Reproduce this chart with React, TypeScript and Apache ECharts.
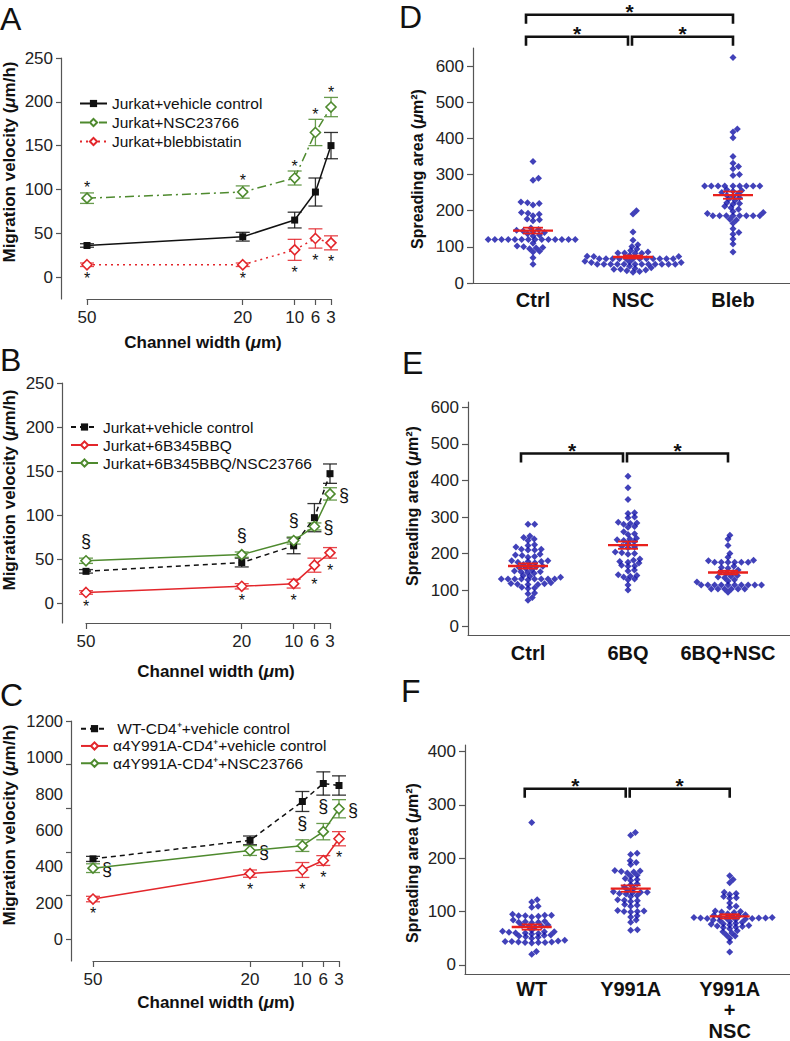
import React, { useEffect, useRef } from 'react';
import * as echarts from 'echarts';

const FONT = "'Liberation Sans', Arial, Helvetica, sans-serif";

// ---------------- data: left panels (migration velocity) ----------------
const WIDTHS = [50, 20, 10, 6, 3];

const A_CTRL = [36, 46, 65, 97, 150];
const A_CTRL_ERR = [2, 5, 9, 16, 15];
const A_NSC = [90, 97, 113, 165, 194];
const A_NSC_ERR = [6, 7, 8, 15, 11];
const A_BLEB = [14, 14, 31, 44, 39];
const A_BLEB_ERR = [2, 2, 12, 11, 8];
const A_NSC_MARK = ['*', '*', '*', '*', '*'];
const A_NSC_MARK_POS = ['top', 'top', 'top', 'top', 'top'];
const A_BLEB_MARK = ['*', '*', '*', '*', '*'];
const A_BLEB_MARK_POS = ['bottom', 'bottom', 'bottom', 'bottom', 'bottom'];

const B_CTRL = [36, 46, 65, 97, 147];
const B_CTRL_ERR = [2, 5, 9, 16, 11];
const B_6BQ = [12, 19, 22, 43, 57];
const B_6BQ_ERR = [2, 3, 5, 8, 6];
const B_6BQ_NSC = [48, 55, 71, 87, 124];
const B_6BQ_NSC_ERR = [3, 3, 4, 4, 7];
const B_6BQ_MARK = ['*', '*', '*', '*', '*'];
const B_6BQ_MARK_POS = ['bottom', 'bottom', 'bottom', 'bottom', 'bottom'];
const B_6BQ_NSC_MARK = ['§', '§', '§', '§', '§'];
const B_6BQ_NSC_MARK_POS = ['top', 'top', 'top', 'right', 'right'];

const C_WT = [441, 543, 757, 856, 845];
const C_WT_ERR = [14, 24, 55, 64, 53];
const C_Y991A = [220, 360, 380, 432, 552];
const C_Y991A_ERR = [15, 20, 41, 27, 39];
const C_Y991A_NSC = [390, 487, 514, 591, 717];
const C_Y991A_NSC_ERR = [24, 27, 32, 45, 50];
const C_Y991A_MARK = ['*', '*', '*', '*', '*'];
const C_Y991A_MARK_POS = ['bottom', 'bottom', 'bottom', 'bottom', 'bottom'];
const C_Y991A_NSC_MARK = ['§', '§', '§', '§', '§'];
const C_Y991A_NSC_MARK_POS = ['right', 'right', 'top', 'top', 'right'];

const AB_Y_TICKS = [0, 50, 100, 150, 200, 250];
const C_Y_LABELS = [0, 200, 400, 600, 800, 1000, 1200];
const C_Y_TICKS = [0, 240, 480, 720, 960, 1200];

// ---------------- data: right panels (spreading area) ----------------
const D_CATS = ['Ctrl', 'NSC', 'Bleb'];
const D_CTRL = [336, 290, 284, 224, 222, 220, 216, 195, 193, 190, 186, 177, 175, 172, 152, 148, 146, 144, 142, 140, 136, 133, 130,
  120, 120, 120, 120, 120, 120, 120, 120, 120, 120, 120, 120, 120, 120, 110, 102, 100, 98, 97, 95, 88, 86, 70, 52];
const D_NSC = [200, 191, 141, 118, 106, 101, 94, 90, 86, 83, 83, 82, 82, 76, 74, 73, 73,
  67, 67, 67, 67, 67, 67, 67, 67, 67, 67, 67, 67, 60, 58, 57, 57,
  52, 52, 52, 52, 52, 52, 52, 52, 52, 52, 52, 52, 46, 42, 40, 38, 38, 36, 34, 32, 30];
const D_BLEB = [624, 426, 418, 402, 350, 331, 322, 316, 300, 297, 268, 268, 268, 268, 268, 268, 268, 268, 268, 258, 256, 254, 250, 247, 243,
  240, 236, 232, 228, 222, 220, 218, 212, 208, 204, 198, 195, 192, 186, 186, 186, 186, 186, 186, 186, 186, 176, 174, 165, 150, 140, 135, 122, 108, 86];
const D_MEAN = [145, 72, 243];
const D_SEM = [8, 4, 10];
const D_PAIRS = [[0, 1], [1, 2], [0, 2]];
const D_PAIR_LEVEL = [681, 681, 742];
const D_Y_TICKS = [0, 100, 200, 300, 400, 500, 600];

const E_CATS = ['Ctrl', '6BQ', '6BQ+NSC'];
const E_CTRL = [280, 280, 248, 244, 240, 236, 224, 222, 218, 212, 212, 210, 210, 198, 196, 195, 192, 190, 180, 180, 178, 178, 176, 175,
  170, 168, 165, 164, 162, 160, 156, 152, 150, 150, 148, 146, 140, 138, 135, 130, 130, 130, 130, 130, 130, 130, 130, 128,
  120, 118, 117, 116, 115, 115, 108, 106, 104, 92, 90, 80, 72];
const E_6BQ = [412, 380, 348, 312, 310, 300, 298, 286, 284, 282, 280, 274, 272, 260, 254, 252, 242, 240, 238, 236, 232, 228, 220, 218,
  216, 204, 202, 200, 198, 185, 182, 178, 176, 174, 168, 166, 165, 155, 152, 142, 140, 138, 136, 130, 128, 114, 100];
const E_6BQ_NSC = [250, 240, 222, 200, 190, 182, 180, 176, 176, 176, 176, 176, 176, 165, 162, 160, 155, 150, 148, 146, 140, 138, 136, 134,
  128, 125, 122, 114, 114, 114, 114, 114, 114, 114, 114, 114, 114, 103, 103, 103, 103, 103, 103, 94];
const E_MEAN = [166, 223, 148];
const E_SEM = [7, 10, 5];
const E_PAIRS = [[0, 1], [1, 2]];
const E_PAIR_LEVEL = [474, 474];
const E_Y_TICKS = [0, 100, 200, 300, 400, 500, 600];

const F_CATS = ['WT', 'Y991A', 'Y991A\n+\nNSC'];
const F_WT = [267, 122, 118, 110, 108, 95, 93, 93, 92, 92, 91, 90, 84, 82, 81, 80, 80, 79, 75, 74, 73, 72, 71, 65, 63, 62, 62, 61, 60,
  60, 59, 58, 56, 55, 54, 53, 52, 50, 46, 45, 44, 44, 43, 43, 42, 42, 42, 41, 25, 20];
const F_Y991A = [248, 243, 209, 207, 195, 192, 188, 177, 176, 175, 174, 172, 168, 166, 162, 160, 158, 152, 150, 146, 143, 140, 137,
  136, 136, 135, 134, 133, 130, 128, 122, 121, 120, 119, 113, 112, 110, 102, 101, 100, 100, 99, 92, 90, 84, 80, 66, 65];
const F_Y991A_NSC = [167, 160, 154, 136, 134, 132, 128, 126, 125, 116, 110, 108, 101, 100, 99, 98, 96, 94, 93, 92, 91, 90, 89, 89,
  88, 88, 88, 88, 87, 87, 86, 85, 84, 83, 82, 80, 78, 77, 76, 75, 74, 73, 72, 71, 70, 68, 64, 62, 60, 56, 54, 50, 43, 24];
const F_MEAN = [71, 143, 91];
const F_SEM = [5, 6, 4];
const F_PAIRS = [[0, 1], [1, 2]];
const F_PAIR_LEVEL = [330, 330];
const F_Y_TICKS = [0, 100, 200, 300, 400];

// ---------------- layout ----------------
// left grids extend down to the channel-width axis; y minimum below 0 leaves the gap
const GRIDS = [
  { left: 87, top: 58, width: 244, height: 241 },
  { left: 86, top: 383, width: 244, height: 240 },
  { left: 93, top: 721, width: 246, height: 240 },
  { left: 473, top: 48, width: 317, height: 235 },
  { left: 468, top: 402, width: 322, height: 233 },
  { left: 465, top: 745, width: 325, height: 234 },
];
const LEFT_Y = [
  { min: -25.1, max: 250, offset: 26 },
  { min: -22.7, max: 250, offset: 24 },
  { min: -121, max: 1200, offset: 22 },
];
const RIGHT = [
  { gi: 3, yMin: 0, yMax: 650, xMin: 0.4, xMax: 3.57 },
  { gi: 4, yMin: -23, yMax: 615, xMin: 0.4, xMax: 3.62 },
  { gi: 5, yMin: -17, yMax: 412, xMin: 0.326, xMax: 3.609 },
];

const BLACK = '#111111';
const GREEN = '#4e8a2e';
const RED = '#e3262b';
const BLUE = '#1212a8';
const MEANRED = '#e8201c';
const AXIS = '#555555';

// reversed channel-width axis: plotted as negative widths
const XW = (w: number) => -w;

function swarm(values: number[], pxPerUnit: number, dx: number, dy: number): number[] {
  const k = dx / dy;
  const order = values.map((_, i) => i).sort((a, b) => values[a] - values[b]);
  const placed: { x: number; y: number }[] = [];
  const out = new Array(values.length).fill(0);
  const d = dx;
  for (const i of order) {
    const y = values[i] * pxPerUnit * k;
    const cands = [0];
    for (const p of placed) {
      const ddy = y - p.y;
      if (Math.abs(ddy) < d) {
        const ddx = Math.sqrt(d * d - ddy * ddy);
        cands.push(p.x + ddx, p.x - ddx);
      }
    }
    cands.sort((a, b) => Math.abs(a) - Math.abs(b) || b - a);
    let chosen = 0;
    for (const c of cands) {
      let ok = true;
      for (const p of placed) {
        const ex = c - p.x, ey = y - p.y;
        if (ex * ex + ey * ey < d * d - 1e-6) { ok = false; break; }
      }
      if (ok) { chosen = c; break; }
    }
    placed.push({ x: chosen, y });
    out[i] = chosen;
  }
  return out;
}

function lineSeries(name: string, gi: number, values: number[], color: string, dash: any, kind: 'square' | 'diamond') {
  return {
    type: 'line', name, xAxisIndex: gi, yAxisIndex: gi, silent: true, z: 4, clip: false,
    data: WIDTHS.map((w, i) => [XW(w), values[i]]),
    symbol: kind === 'square' ? 'rect' : 'diamond',
    symbolSize: kind === 'square' ? 7 : 10,
    lineStyle: { color, width: 1.5, type: dash },
    itemStyle: kind === 'square'
      ? { color: BLACK }
      : { color: '#ffffff', borderColor: color, borderWidth: 1.6 },
  };
}

function errSeries(gi: number, values: number[], errs: number[], color: string, marks?: string[], pos?: string[]) {
  return {
    type: 'custom', xAxisIndex: gi, yAxisIndex: gi, silent: true, clip: false, z: 3,
    data: WIDTHS.map((w, i) => [XW(w), values[i], errs[i], i]),
    renderItem: (params: any, api: any) => {
      const x = api.value(0), y = api.value(1), e = api.value(2), i = api.value(3);
      const top = api.coord([x, y + e]);
      const bot = api.coord([x, y - e]);
      const c = api.coord([x, y]);
      const st = { stroke: color, lineWidth: 1.3, opacity: 0.85 };
      const children: any[] = [
        { type: 'line', shape: { x1: c[0], y1: top[1], x2: c[0], y2: bot[1] }, style: st },
        { type: 'line', shape: { x1: c[0] - 7, y1: top[1], x2: c[0] + 7, y2: top[1] }, style: st },
        { type: 'line', shape: { x1: c[0] - 7, y1: bot[1], x2: c[0] + 7, y2: bot[1] }, style: st },
      ];
      const m = marks ? marks[i] : '';
      if (m) {
        const p = pos ? pos[i] : 'top';
        let tx = c[0], ty = c[1];
        if (p === 'top') ty = top[1] - (m === '*' ? 5 : 17);
        else if (p === 'bottom') ty = bot[1] + (m === '*' ? 12 : 10);
        else { tx = c[0] + 14; ty = c[1] + 1; }
        children.push({
          type: 'text', x: tx, y: ty,
          style: {
            text: m, fill: BLACK, fontSize: m === '*' ? 16 : 18, fontFamily: FONT,
            align: 'center', verticalAlign: 'middle', textAlign: 'center', textVerticalAlign: 'middle',
          },
        });
      }
      return { type: 'group', children };
    },
  };
}

function leftY(gi: number, labels: number[], ticks: number[], fs: number) {
  const l = LEFT_Y[gi];
  return {
    type: 'value', gridIndex: gi, min: l.min, max: l.max, offset: l.offset,
    axisLine: { show: true, onZero: false, lineStyle: { color: AXIS, width: 1.2 } },
    axisTick: { show: true, length: 5, customValues: ticks, lineStyle: { color: AXIS, width: 1.2 } },
    axisLabel: { customValues: labels, formatter: (v: number) => String(v), fontSize: fs, color: '#222', fontFamily: FONT, margin: 8 },
    splitLine: { show: false },
  };
}

function leftX(gi: number) {
  const vals = WIDTHS.map(XW);
  return {
    type: 'value', gridIndex: gi, min: XW(50), max: XW(3), position: 'bottom',
    axisLine: { show: true, onZero: false, lineStyle: { color: AXIS, width: 1.2 } },
    axisTick: { show: true, length: 6, customValues: vals, lineStyle: { color: AXIS, width: 1.2 } },
    axisLabel: { customValues: vals, formatter: (v: number) => String(-v), fontSize: 17, color: '#222', fontFamily: FONT, margin: 10 },
    splitLine: { show: false },
  };
}

function rightY(k: number, ticks: number[]) {
  const r = RIGHT[k];
  return {
    type: 'value', gridIndex: r.gi, min: r.yMin, max: r.yMax,
    axisLine: { show: true, onZero: false, lineStyle: { color: AXIS, width: 1.2 } },
    axisTick: { show: true, length: 6, customValues: ticks, lineStyle: { color: AXIS, width: 1.2 } },
    axisLabel: { customValues: ticks, formatter: (v: number) => String(v), fontSize: 17, color: '#222', fontFamily: FONT, margin: 9 },
    splitLine: { show: false },
  };
}

function rightX(k: number, cats: string[], margin: number) {
  const r = RIGHT[k];
  return {
    type: 'value', gridIndex: r.gi, min: r.xMin, max: r.xMax, position: 'bottom',
    axisLine: { show: true, onZero: false, lineStyle: { color: AXIS, width: 1.2 } },
    axisTick: { show: false },
    axisLabel: {
      customValues: [1, 2, 3], formatter: (v: number) => cats[Math.round(v) - 1] || '',
      fontSize: 20, fontWeight: 'bold', color: '#111', fontFamily: FONT, margin, lineHeight: 21,
    },
    splitLine: { show: false },
  };
}

function swarmSeries(k: number, groups: number[][]) {
  const r = RIGHT[k];
  const g = GRIDS[r.gi];
  const pxY = g.height / (r.yMax - r.yMin);
  const pxX = g.width / (r.xMax - r.xMin);
  const data: number[][] = [];
  groups.forEach((vals, gi) => {
    const offs = swarm(vals, pxY, 6.7, 3.8);
    vals.forEach((v, i) => data.push([gi + 1 + offs[i] / pxX, v]));
  });
  return {
    type: 'scatter', xAxisIndex: r.gi, yAxisIndex: r.gi, silent: true, z: 3,
    symbol: 'diamond', symbolSize: 7, itemStyle: { color: BLUE }, data,
  };
}

function meanSeries(k: number, means: number[], sems: number[]) {
  const r = RIGHT[k];
  return {
    type: 'custom', xAxisIndex: r.gi, yAxisIndex: r.gi, silent: true, clip: false, z: 5,
    data: means.map((m, i) => [i + 1, m, sems[i]]),
    renderItem: (params: any, api: any) => {
      const x = api.value(0), m = api.value(1), s = api.value(2);
      const c = api.coord([x, m]);
      const t = api.coord([x, m + s]);
      const b = api.coord([x, m - s]);
      const st = { stroke: MEANRED, lineWidth: 1.8 };
      return {
        type: 'group', children: [
          { type: 'line', shape: { x1: c[0] - 20, y1: c[1], x2: c[0] + 20, y2: c[1] }, style: { stroke: MEANRED, lineWidth: 2.4 } },
          { type: 'line', shape: { x1: c[0], y1: t[1], x2: c[0], y2: b[1] }, style: st },
          { type: 'line', shape: { x1: c[0] - 10, y1: t[1], x2: c[0] + 10, y2: t[1] }, style: st },
          { type: 'line', shape: { x1: c[0] - 10, y1: b[1], x2: c[0] + 10, y2: b[1] }, style: st },
        ],
      };
    },
  };
}

function bracketSeries(k: number, pairs: number[][], levels: number[]) {
  const r = RIGHT[k];
  return {
    type: 'custom', xAxisIndex: r.gi, yAxisIndex: r.gi, silent: true, clip: false, z: 6,
    encode: { x: [0, 1], y: 2 },
    data: pairs.map((p, i) => [p[0] + 1, p[1] + 1, levels[i], p[0], p[1]]),
    renderItem: (params: any, api: any) => {
      const a = api.value(0), b = api.value(1), lv = api.value(2), ia = api.value(3), ib = api.value(4);
      const pa = api.coord([a, lv]);
      const pb = api.coord([b, lv]);
      const x1 = pa[0] + (ia === 0 ? -7 : -1);
      const x2 = pb[0] + (ib === 1 ? -5 : 0);
      const y = pa[1];
      const yt = y + 9;
      return {
        type: 'group', children: [
          { type: 'polyline', shape: { points: [[x1, yt], [x1, y], [x2, y], [x2, yt]] }, style: { stroke: BLACK, lineWidth: 2.6, fill: null } },
          {
            type: 'text', x: (x1 + x2) / 2, y: y - 3,
            style: { text: '*', fill: BLACK, fontSize: 21, fontWeight: 'bold', fontFamily: FONT, align: 'center', verticalAlign: 'middle', textAlign: 'center', textVerticalAlign: 'middle' },
          },
        ],
      };
    },
  };
}

function legend(left: number, top: number, lh: number, names: string[]) {
  return {
    orient: 'vertical', left, top, itemWidth: 27, itemHeight: 9, itemGap: 0, padding: 0,
    selectedMode: false,
    textStyle: { fontSize: 15.5, fontFamily: FONT, color: '#111', lineHeight: lh },
    formatter: (n: string) => n.replace(/\u200b/g, ''),
    data: names,
  };
}

function title(x: number, y: number, pre: string, post: string, rotate: boolean, fs: number) {
  return {
    type: 'text', x, y, rotation: rotate ? Math.PI / 2 : 0, silent: true,
    style: {
      text: `${pre}{i|μ}${post}`,
      rich: { i: { fontStyle: 'italic', fontWeight: 'bold', fontSize: fs, fontFamily: FONT, fill: BLACK } },
      fontSize: fs, fontWeight: 'bold', fontFamily: FONT, fill: BLACK,
      align: 'center', verticalAlign: 'middle', textAlign: 'center', textVerticalAlign: 'middle',
    },
  };
}

function letter(x: number, y: number, t: string) {
  return {
    type: 'text', x, y, silent: true,
    style: { text: t, fontSize: 32, fontFamily: FONT, fill: BLACK, align: 'left', verticalAlign: 'middle', textAlign: 'left', textVerticalAlign: 'middle' },
  };
}

export default function App() {
  const ref = useRef<HTMLDivElement>(null);
  useEffect(() => {
    if (!ref.current) return;
    const chart = echarts.init(ref.current, undefined, { renderer: 'svg' });
    const nA = ['Jurkat+vehicle control', 'Jurkat+NSC23766', 'Jurkat+blebbistatin'];
    const nB = ['Jurkat+vehicle control\u200b', 'Jurkat+6B345BBQ', 'Jurkat+6B345BBQ/NSC23766'];
    const nC = [' WT-CD4⁺+vehicle control', 'α4Y991A-CD4⁺+vehicle control', 'α4Y991A-CD4⁺+NSC23766'];
    const option: any = {
      animation: false,
      grid: GRIDS.map((g) => ({ ...g, containLabel: false })),
      xAxis: [
        leftX(0), leftX(1), leftX(2),
        rightX(0, D_CATS, 6), rightX(1, E_CATS, 7), rightX(2, F_CATS, 4),
      ],
      yAxis: [
        leftY(0, AB_Y_TICKS, AB_Y_TICKS, 17),
        leftY(1, AB_Y_TICKS, AB_Y_TICKS, 17),
        leftY(2, C_Y_LABELS, C_Y_TICKS, 16.5),
        rightY(0, D_Y_TICKS), rightY(1, E_Y_TICKS), rightY(2, F_Y_TICKS),
      ],
      legend: [
        legend(79, 94, 19, nA),
        legend(70, 418, 18, nB),
        legend(80, 720, 17.3, nC),
      ],
      series: [
        errSeries(0, A_CTRL, A_CTRL_ERR, BLACK),
        errSeries(0, A_NSC, A_NSC_ERR, GREEN, A_NSC_MARK, A_NSC_MARK_POS),
        errSeries(0, A_BLEB, A_BLEB_ERR, RED, A_BLEB_MARK, A_BLEB_MARK_POS),
        lineSeries(nA[0], 0, A_CTRL, BLACK, 'solid', 'square'),
        lineSeries(nA[1], 0, A_NSC, GREEN, [9, 4, 2, 4], 'diamond'),
        lineSeries(nA[2], 0, A_BLEB, RED, [2, 4], 'diamond'),

        errSeries(1, B_CTRL, B_CTRL_ERR, BLACK),
        errSeries(1, B_6BQ, B_6BQ_ERR, RED, B_6BQ_MARK, B_6BQ_MARK_POS),
        errSeries(1, B_6BQ_NSC, B_6BQ_NSC_ERR, GREEN, B_6BQ_NSC_MARK, B_6BQ_NSC_MARK_POS),
        lineSeries(nB[0], 1, B_CTRL, BLACK, [5, 4], 'square'),
        lineSeries(nB[1], 1, B_6BQ, RED, 'solid', 'diamond'),
        lineSeries(nB[2], 1, B_6BQ_NSC, GREEN, 'solid', 'diamond'),

        errSeries(2, C_WT, C_WT_ERR, BLACK),
        errSeries(2, C_Y991A, C_Y991A_ERR, RED, C_Y991A_MARK, C_Y991A_MARK_POS),
        errSeries(2, C_Y991A_NSC, C_Y991A_NSC_ERR, GREEN, C_Y991A_NSC_MARK, C_Y991A_NSC_MARK_POS),
        lineSeries(nC[0], 2, C_WT, BLACK, [5, 4], 'square'),
        lineSeries(nC[1], 2, C_Y991A, RED, 'solid', 'diamond'),
        lineSeries(nC[2], 2, C_Y991A_NSC, GREEN, 'solid', 'diamond'),

        swarmSeries(0, [D_CTRL, D_NSC, D_BLEB]),
        meanSeries(0, D_MEAN, D_SEM),
        bracketSeries(0, D_PAIRS, D_PAIR_LEVEL),
        swarmSeries(1, [E_CTRL, E_6BQ, E_6BQ_NSC]),
        meanSeries(1, E_MEAN, E_SEM),
        bracketSeries(1, E_PAIRS, E_PAIR_LEVEL),
        swarmSeries(2, [F_WT, F_Y991A, F_Y991A_NSC]),
        meanSeries(2, F_MEAN, F_SEM),
        bracketSeries(2, F_PAIRS, F_PAIR_LEVEL),
      ],
      graphic: [
        letter(0, 19, 'A'), letter(0, 360, 'B'), letter(0, 695, 'C'),
        letter(399, 17, 'D'), letter(402, 363, 'E'), letter(401, 691, 'F'),
        title(9, 162, 'Migration velocity (', 'm/h)', true, 17),
        title(9, 490, 'Migration velocity (', 'm/h)', true, 17),
        title(9, 825, 'Migration velocity (', 'm/h)', true, 17),
        title(203, 342, 'Channel width (', 'm)', false, 17),
        title(216, 671, 'Channel width (', 'm)', false, 17),
        title(216, 1002, 'Channel width (', 'm)', false, 17),
        title(417, 169, 'Spreading area (', 'm²)', true, 16),
        title(412, 506, 'Spreading area (', 'm²)', true, 16),
        title(412, 863, 'Spreading area (', 'm²)', true, 16),
      ],
    };
    chart.setOption(option);
    return () => chart.dispose();
  }, []);
  return <div ref={ref} style={{ position: 'absolute', left: 0, top: 0, width: 790, height: 1041, background: '#fff' }} />;
}
